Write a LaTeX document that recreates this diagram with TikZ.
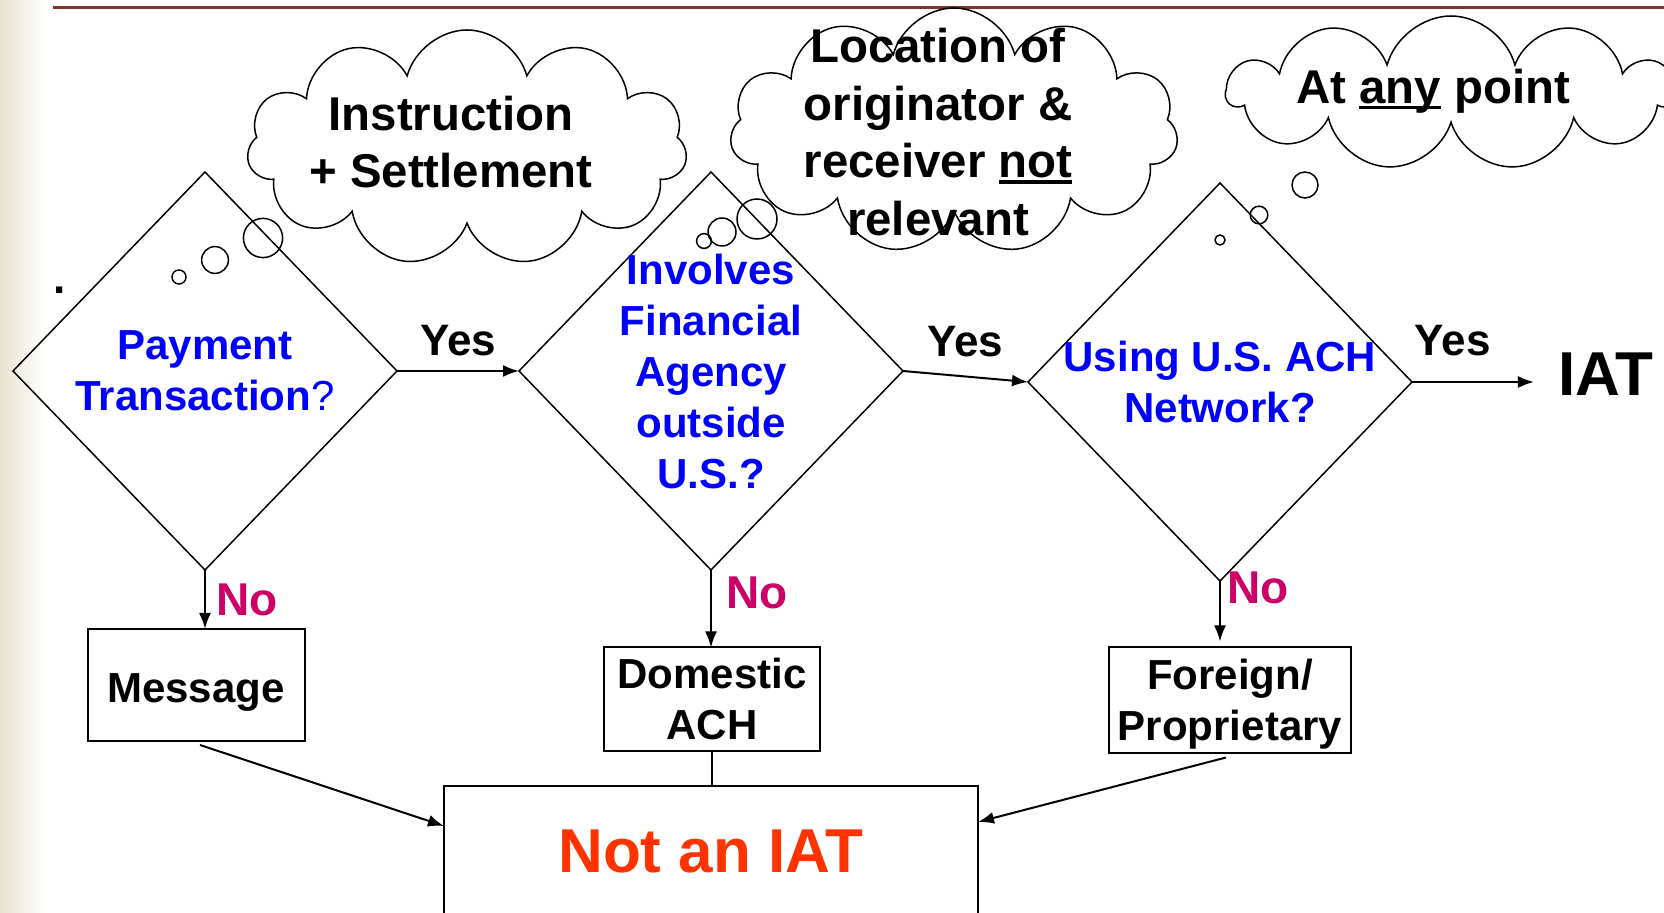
\documentclass[tikz,border=0pt]{standalone}
\usepackage{fontspec}
\setmainfont{Liberation Sans}
\usepackage{tikz}
\usepackage{xcolor}
\usetikzlibrary{arrows.meta, positioning, shapes, calc}

\definecolor{noMagenta}{RGB}{204,0,102}
\definecolor{nonRouge}{RGB}{255,51,0}
\definecolor{ligneHaut}{RGB}{128,52,45}
\definecolor{bandeBeige}{RGB}{232,226,208}

% thick underline for the cloud texts
\newcommand{\souligne}[1]{{\setbox0\hbox{#1}\rlap{\rule[-3pt]{\wd0}{1.6pt}}\box0}}

\begin{document}
\begin{tikzpicture}[
			x=0.5pt, y=-0.5pt,
			% Styles for the decision part
			decision/.style={diamond, draw, line width=0.75pt, minimum width=192pt, minimum height=199pt, inner sep=0pt, outer sep=0pt},
			question/.style={text=blue, font=\fontsize{21}{25.5}\selectfont\bfseries, align=center},
			issue/.style={draw, line width=1pt, font=\fontsize{21}{25.5}\selectfont\bfseries, align=center, inner sep=0pt, outer sep=0pt},
			nuage/.style={cloud, draw, cloud puffs=11, cloud ignores aspect, line width=0.75pt, inner sep=0pt},
			nuageTexte/.style={font=\fontsize{23.7}{28.7}\selectfont\bfseries, align=center},
			bulle/.style={line width=0.75pt},
			fleche/.style={-{Latex[length=8pt, width=6pt]}, line width=1pt},
			oui/.style={font=\fontsize{22}{26}\selectfont\bfseries, anchor=base},
			non/.style={font=\fontsize{23}{27}\selectfont\bfseries, text=noMagenta, anchor=west},
			]

			\useasboundingbox (0,0) rectangle (1664,913);
			\fill[left color=bandeBeige, right color=white] (0,0) rectangle (45,913);
			\draw[ligneHaut, line width=1.5pt] (53,8) -- (1664,8);
			\node[font=\fontsize{22}{26}\selectfont\bfseries] (point) at (60,290) {.};

			% Clouds
			\node[nuage, minimum width=220pt, minimum height=118pt] (nuageA) at (467,148) {};
			\node[nuageTexte] (texteA) at (451,142) {Instruction\\+ Settlement};
			\draw[bulle] (263,238) circle (9.8pt);
			\draw[bulle] (215,260) circle (6.7pt);
			\draw[bulle] (179,277) circle (3.5pt);

			\node[nuage, minimum width=224pt, minimum height=123pt] (nuageB) at (954,131) {};
			\node[nuageTexte] (texteB) at (938,132) {Location of\\originator \&\\receiver \souligne{not}\\relevant};
			\draw[bulle] (757,219) circle (10pt);
			\draw[bulle] (722,232) circle (7pt);
			\draw[bulle] (704,241) circle (3.7pt);

			\node[nuage, minimum width=224pt, minimum height=77pt] (nuageC) at (1451,93) {};
			\node[nuageTexte] (texteC) at (1433,91) {At \souligne{any} point};
			\draw[bulle] (1305,185) circle (6.5pt);
			\draw[bulle] (1259,215) circle (4.4pt);
			\draw[bulle] (1220,240) circle (2.5pt);

			% Decisions
			\node[decision, label={[question]center:{Payment\\Transaction{\mdseries ?}}}] (D1) at (205,371) {};
			\node[decision, label={[question]center:{Involves\\Financial\\Agency\\outside\\U.S.?}}] (D2) at (711,371) {};
			\node[decision, label={[question]center:{Using U.S. ACH\\Network?}}] (D3) at (1220,382) {};
			\node[font=\fontsize{31}{36}\selectfont\bfseries, inner sep=0pt] (IAT) at (1606,374) {IAT};

			\draw[fleche] (D1.east) -- (D2.west) node[oui, midway, yshift=7.5pt] {Yes};
			\draw[fleche] (D2.east) -- (D3.west) node[oui, midway, yshift=10.2pt] {Yes};
			\draw[fleche, shorten >=12pt] (D3.east) -- (IAT.west |- D3.east) node[oui, pos=0.28, yshift=13pt] {Yes};

			% Outcomes
			\node[issue, minimum width=108.5pt, minimum height=56pt, text height=17pt, text depth=0pt] (message) at (196,685) {Message};
			\node[issue, minimum width=108pt, minimum height=51.5pt] (domestic) at (712,699) {Domestic\\ACH};
			\node[issue, minimum width=121pt, minimum height=52.5pt, text depth=0pt] (foreign) at (1230,700) {Foreign/\\Proprietary};
			\node[issue, minimum width=267pt, minimum height=65pt, text=nonRouge, font=\fontsize{31}{36}\selectfont\bfseries] (nonIAT) at (711,851) {Not an IAT};

			\draw[fleche] (D1.south) -- (D1.south |- message.north) node[non, pos=0.5, xshift=2pt] {No};
			\draw[fleche] (D2.south) -- (D2.south |- domestic.north) node[non, pos=0.3, xshift=4pt] {No};
			\draw[fleche, shorten >=3pt] (D3.south) -- (D3.south |- foreign.north) node[non, pos=0.1, xshift=0pt] {No};

			\draw[fleche] ($(message.south)+(4,4)$) -- ($(nonIAT.north west)+(0,40)$);
			\draw[line width=0.75pt] (domestic.south) -- (domestic.south |- nonIAT.north);
			\draw[fleche] ($(foreign.south)+(-4,5)$) -- ($(nonIAT.north east)+(0,36)$);

		\end{tikzpicture}
\end{document}
